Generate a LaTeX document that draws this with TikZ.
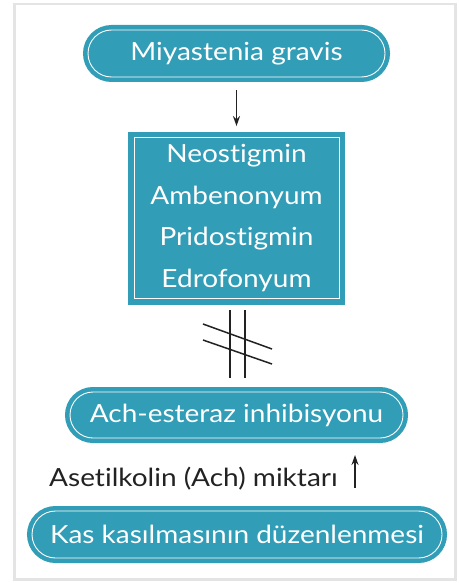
\documentclass[tikz,border=0pt]{standalone}
\usepackage{fontspec}
\setmainfont{Lato}[FakeStretch=1.12, Ligatures=NoCommon]
\usetikzlibrary{arrows.meta}
\definecolor{teal}{HTML}{319DB6}
\definecolor{framegray}{HTML}{E4E4E4}
\definecolor{ink}{HTML}{222222}
\tikzset{
  pill/.style={fill=teal, draw=white, line width=0.9pt, rounded corners=#1,
    preaction={draw=teal, line width=10pt}, text=white, inner sep=0pt,
    font=\fontsize{25}{28}\selectfont},
  panel/.style={fill=teal, draw=white, line width=0.9pt,
    preaction={draw=teal, line width=12pt}, text=white, inner sep=0pt,
    align=center, font=\fontsize{25}{41.5}\selectfont},
  conn/.style={draw=ink, line width=1.6pt, -{Stealth[length=10pt,width=7pt]}},
  cross/.style={draw=ink, line width=1.5pt},
}
\begin{document}
\begin{tikzpicture}[x=1pt,y=-1pt]
\useasboundingbox (0,0) rectangle (458,583);
\draw[framegray, line width=2.5pt] (14.5,4) rectangle (455.5,579.5);
\node[pill=23.5pt, minimum width=297pt, minimum height=47pt] (mg) at (236.5,53.5) {Miyastenia gravis};
\node[panel, minimum width=205pt, minimum height=161pt] (drugs) at (236.5,218)
  {Neostigmin\\Ambenonyum\\Pridostigmin\\Edrofonyum};
\node[pill=23pt, minimum width=333pt, minimum height=46pt] (ach) at (236.5,415) {Ach-esteraz inhibisyonu};
\node[pill=23.5pt, minimum width=410pt, minimum height=47pt] (kas) at (237,534.5) {Kas kasılmasının düzenlenmesi};
\node[text=ink, anchor=base west, inner sep=0pt, font=\fontsize{25}{28}\selectfont] (lbl) at (49,486) {Asetilkolin (Ach) miktarı};
\draw[conn, shorten <=13pt, shorten >=11pt] (mg.south) -- (drugs.north);
\coordinate (upa) at (355,488);
\coordinate (upb) at (355,455);
\draw[conn] (upa) -- (upb);
\draw[cross] (230,310) -- (230,378);
\draw[cross] (245,310) -- (245,378);
\draw[cross] (203,324) -- (272,349);
\draw[cross] (203,340) -- (272,364);
\end{tikzpicture}
\end{document}
